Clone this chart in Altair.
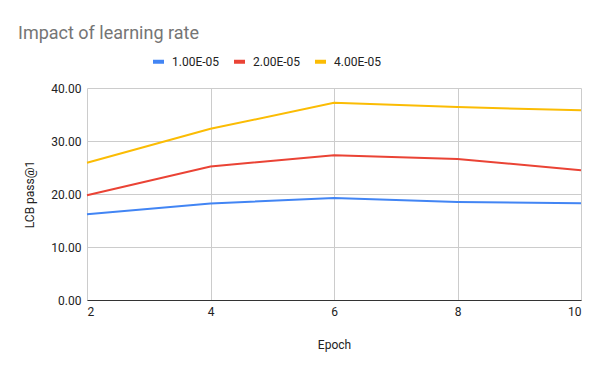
import altair as alt
import pandas as pd

epochs = [2, 4, 6, 8, 10]
series_names = ["1.00E-05", "2.00E-05", "4.00E-05"]
lr_1e5 = [16.2, 18.2, 19.25, 18.5, 18.25]
lr_2e5 = [19.75, 25.2, 27.3, 26.6, 24.5]
lr_4e5 = [25.9, 32.3, 37.2, 36.4, 35.8]
colors = ["#4285F4", "#EA4335", "#FBBC04"]

rows = []
for name, vals in zip(series_names, [lr_1e5, lr_2e5, lr_4e5]):
    for e, v in zip(epochs, vals):
        rows.append({"Epoch": e, "value": v, "series": name})
df = pd.DataFrame(rows)

font = "Roboto"

chart = alt.Chart(df).mark_line(strokeWidth=2).encode(
    x=alt.X("Epoch:Q", scale=alt.Scale(domain=[2, 10], nice=False, zero=False),
            axis=alt.Axis(values=epochs, title="Epoch", format="d")),
    y=alt.Y("value:Q", scale=alt.Scale(domain=[0, 40]),
            axis=alt.Axis(values=[0, 10, 20, 30, 40], format=".2f", title="LCB pass@1")),
    color=alt.Color("series:N", scale=alt.Scale(domain=series_names, range=colors),
                    legend=alt.Legend(title=None, orient="none", direction="horizontal",
                                      legendX=64, legendY=-34,
                                      symbolType="stroke", symbolSize=121,
                                      symbolStrokeWidth=4, labelFontSize=12, labelColor="#222222",
                                      labelFont=font, columnPadding=6, labelOffset=6)),
).properties(
    width=494, height=212,
    title=alt.TitleParams("Impact of learning rate", anchor="start", frame="group",
                          dx=-69, fontSize=18, fontWeight="normal", color="#757575",
                          font=font, offset=11),
    autosize=alt.AutoSizeParams(type="none"),
    padding={"left": 79, "top": 80, "right": 11, "bottom": 63},
).configure_view(stroke=None).configure_axis(
    labelFont=font, titleFont=font, labelFontSize=12, titleFontSize=12,
    labelColor="#222222", titleColor="#222222", titleFontWeight="normal",
    gridColor="#CCCCCC", ticks=False, domain=False,
).configure_axisX(
    domain=True, domainColor="#333333", labelPadding=6, titlePadding=22,
).configure_axisY(
    labelPadding=6, titlePadding=14,
)

chart.save("out.html", embed_options={"renderer": "svg", "actions": False})
